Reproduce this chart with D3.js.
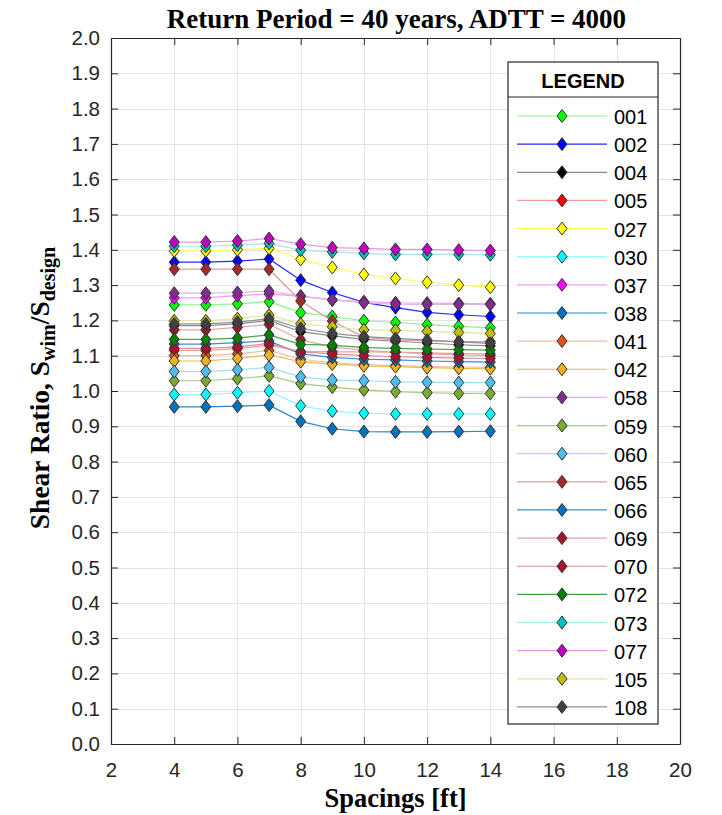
<!DOCTYPE html>
<html>
<head>
<meta charset="utf-8">
<script src="https://cdn.jsdelivr.net/npm/d3@7/dist/d3.min.js"></script>
<style>
  html, body { margin: 0; padding: 0; background: #fff; }
  svg { display: block; }
</style>
</head>
<body>
<svg id="chart" width="722" height="815"></svg>
<script>
// Girder spacings (ft) at which every bridge was evaluated
const spacings = [4, 5, 6, 7, 8, 9, 10, 11, 12, 13, 14];

// Bridge identifiers, in legend order
const bridgeIds = ["001", "002", "004", "005", "027", "030", "037", "038", "041", "042",
                   "058", "059", "060", "065", "066", "069", "070", "072", "073", "077", "105", "108"];

// Shear ratio S_wim / S_design per bridge
const s001 = [1.244, 1.244, 1.247, 1.253, 1.222, 1.211, 1.199, 1.194, 1.188, 1.183, 1.179];
const s002 = [1.365, 1.365, 1.368, 1.374, 1.314, 1.279, 1.251, 1.236, 1.223, 1.216, 1.211];
const s004 = [1.185, 1.185, 1.190, 1.200, 1.168, 1.156, 1.146, 1.141, 1.136, 1.131, 1.128];
const s005 = [1.115, 1.115, 1.120, 1.130, 1.112, 1.111, 1.111, 1.110, 1.108, 1.106, 1.105];
const s027 = [1.397, 1.397, 1.400, 1.404, 1.373, 1.350, 1.330, 1.319, 1.308, 1.300, 1.294];
const s030 = [0.990, 0.990, 0.995, 1.000, 0.958, 0.943, 0.937, 0.935, 0.935, 0.935, 0.935];
const s037 = [1.264, 1.264, 1.270, 1.275, 1.268, 1.258, 1.253, 1.250, 1.249, 1.248, 1.247];
const s038 = [0.955, 0.955, 0.957, 0.960, 0.914, 0.893, 0.885, 0.884, 0.884, 0.885, 0.886];
const s041 = [1.100, 1.100, 1.105, 1.115, 1.090, 1.080, 1.075, 1.072, 1.070, 1.068, 1.067];
const s042 = [1.085, 1.085, 1.092, 1.102, 1.083, 1.076, 1.071, 1.069, 1.066, 1.064, 1.063];
const s058 = [1.277, 1.277, 1.279, 1.283, 1.269, 1.258, 1.250, 1.246, 1.245, 1.245, 1.245];
const s059 = [1.029, 1.029, 1.035, 1.043, 1.021, 1.011, 1.003, 0.998, 0.995, 0.993, 0.993];
const s060 = [1.055, 1.055, 1.060, 1.067, 1.040, 1.031, 1.029, 1.026, 1.025, 1.024, 1.024];
const s065 = [1.345, 1.345, 1.345, 1.345, 1.255, 1.198, 1.152, 1.145, 1.142, 1.140, 1.140];
const s066 = [1.133, 1.133, 1.137, 1.142, 1.105, 1.095, 1.090, 1.088, 1.085, 1.083, 1.082];
const s069 = [1.173, 1.173, 1.180, 1.189, 1.145, 1.125, 1.115, 1.110, 1.105, 1.102, 1.100];
const s070 = [1.121, 1.121, 1.125, 1.135, 1.111, 1.105, 1.100, 1.097, 1.095, 1.093, 1.092];
const s072 = [1.146, 1.146, 1.150, 1.159, 1.132, 1.130, 1.123, 1.121, 1.119, 1.117, 1.116];
const s073 = [1.410, 1.410, 1.413, 1.418, 1.399, 1.394, 1.390, 1.387, 1.387, 1.387, 1.386];
const s077 = [1.422, 1.422, 1.425, 1.432, 1.416, 1.406, 1.404, 1.401, 1.401, 1.399, 1.398];
const s105 = [1.199, 1.199, 1.205, 1.215, 1.190, 1.182, 1.173, 1.172, 1.169, 1.166, 1.163];
const s108 = [1.190, 1.190, 1.195, 1.205, 1.177, 1.163, 1.154, 1.149, 1.144, 1.139, 1.135];

const seriesValues = [s001, s002, s004, s005, s027, s030, s037, s038, s041, s042,
                      s058, s059, s060, s065, s066, s069, s070, s072, s073, s077, s105, s108];

// Marker fill and (lighter) line colour per bridge
const markerColors = ["#00ff00", "#0000ff", "#000000", "#ff0000", "#ffff00", "#00ffff", "#ff00ff", "#0072bd",
                      "#d95319", "#edb120", "#7e2f8e", "#77ac30", "#4dbeee", "#a52a2a", "#0072bd", "#a2142f",
                      "#a2142f", "#008000", "#00bfbf", "#bf00bf", "#bfbf00", "#404040"];
const lineColors = ["#8cf78c", "#2a2aff", "#8a8a8a", "#f59a9a", "#ffff55", "#8cfafa", "#f79af7", "#2a86c8",
                    "#f0bca8", "#edb94a", "#dcb6dc", "#a6cc80", "#a6dcf2", "#d8a0a0", "#3b90cc", "#e4a6b0",
                    "#d9909c", "#4ca04c", "#a6e6e6", "#e39ae3", "#e6e6a0", "#8f8f8f"];

const xTicks = d3.range(2, 20.001, 2);
const yTicks = d3.range(0, 21).map(i => i / 10);

const W = 722, H = 815;
const plot = { left: 111, right: 680, top: 38, bottom: 744 };

const svg = d3.select("#chart");
svg.append("rect").attr("width", W).attr("height", H).attr("fill", "#fff");

const x = d3.scaleLinear().domain([2, 20]).range([plot.left, plot.right]);
const y = d3.scaleLinear().domain([0, 2]).range([plot.bottom, plot.top]);

const sansFont = "'Liberation Sans', Arial, Helvetica, sans-serif";
const serifFont = "'Liberation Serif', 'Times New Roman', serif";

// Grid
const grid = svg.append("g").attr("stroke", "#e3e3e3").attr("stroke-width", 1);
grid.selectAll("line.gx").data(xTicks.slice(1, -1)).join("line")
  .attr("x1", d => Math.round(x(d)) + 0.5).attr("x2", d => Math.round(x(d)) + 0.5)
  .attr("y1", plot.top).attr("y2", plot.bottom);
grid.selectAll("line.gy").data(yTicks.slice(1, -1)).join("line")
  .attr("y1", d => Math.round(y(d)) + 0.5).attr("y2", d => Math.round(y(d)) + 0.5)
  .attr("x1", plot.left).attr("x2", plot.right);

// Axes (ticks point inward, MATLAB style)
const tickLen = 7;
const fmt = d3.format(".1f");
const axB = svg.append("g").attr("transform", `translate(0,${plot.bottom})`)
  .call(d3.axisBottom(x).tickValues(xTicks).tickFormat(d3.format("d")).tickSizeInner(-tickLen).tickSizeOuter(0).tickPadding(18));
const axT = svg.append("g").attr("transform", `translate(0,${plot.top})`)
  .call(d3.axisTop(x).tickValues(xTicks).tickFormat("").tickSizeInner(-tickLen).tickSizeOuter(0));
const axL = svg.append("g").attr("transform", `translate(${plot.left},0)`)
  .call(d3.axisLeft(y).tickValues(yTicks).tickFormat(fmt).tickSizeInner(-tickLen).tickSizeOuter(0).tickPadding(11));
const axR = svg.append("g").attr("transform", `translate(${plot.right},0)`)
  .call(d3.axisRight(y).tickValues(yTicks).tickFormat("").tickSizeInner(-tickLen).tickSizeOuter(0));

[axB, axT, axL, axR].forEach(a => {
  a.select(".domain").attr("stroke", "#262626").attr("stroke-width", 1.2);
  a.selectAll(".tick line").attr("stroke", "#262626").attr("stroke-width", 1);
  a.selectAll(".tick text").attr("fill", "#262626").style("font-family", sansFont).style("font-size", "20.5px");
});

// Bridge curves: line then diamond markers, drawn in legend order
const diamond = "M0,-6.5L5,0L0,6.5L-5,0Z";
const line = d3.line().x(d => x(d[0])).y(d => y(d[1]));
const dataG = svg.append("g");
bridgeIds.forEach((id, i) => {
  const pts = spacings.map((s, j) => [s, seriesValues[i][j]]);
  const g = dataG.append("g").attr("class", "bridge-" + id);
  g.append("path").datum(pts).attr("d", line)
    .attr("fill", "none").attr("stroke", lineColors[i]).attr("stroke-width", 1.2);
  g.selectAll("path.mk").data(pts).join("path").attr("class", "mk")
    .attr("d", diamond)
    .attr("transform", d => `translate(${x(d[0])},${y(d[1])})`)
    .attr("fill", markerColors[i]).attr("stroke", "#333").attr("stroke-width", 1);
});

// Legend
const lg = { x0: 508, x1: 658, y0: 62, y1: 724, head: 97, first: 116, step: 28.14 };
const legend = svg.append("g");
legend.append("rect").attr("x", lg.x0).attr("y", lg.y0).attr("width", lg.x1 - lg.x0).attr("height", lg.y1 - lg.y0)
  .attr("fill", "#fff").attr("stroke", "#262626").attr("stroke-width", 1.2);
legend.append("line").attr("x1", lg.x0).attr("x2", lg.x1).attr("y1", lg.head).attr("y2", lg.head)
  .attr("stroke", "#262626").attr("stroke-width", 1.2);
legend.append("text").attr("x", (lg.x0 + lg.x1) / 2).attr("y", 88).attr("text-anchor", "middle")
  .style("font-family", sansFont).style("font-size", "20px").style("font-weight", "bold").attr("fill", "#000")
  .text("LEGEND");
const items = legend.selectAll("g.item").data(bridgeIds).join("g").attr("class", "item")
  .attr("transform", (d, i) => `translate(0,${lg.first + i * lg.step})`);
items.append("line").attr("x1", 517).attr("x2", 607).attr("y1", 0).attr("y2", 0)
  .attr("stroke", (d, i) => lineColors[i]).attr("stroke-width", 1.2);
items.append("path").attr("d", diamond).attr("transform", "translate(562,0)")
  .attr("fill", (d, i) => markerColors[i]).attr("stroke", "#333").attr("stroke-width", 1);
items.append("text").attr("x", 614).attr("y", 8)
  .style("font-family", sansFont).style("font-size", "20px").attr("fill", "#000")
  .text(d => d);

// Title and axis labels
svg.append("text").attr("x", (plot.left + plot.right) / 2 + 1).attr("y", 28).attr("text-anchor", "middle")
  .style("font-family", serifFont).style("font-size", "27px").style("font-weight", "bold").attr("fill", "#000")
  .text("Return Period = 40 years, ADTT = 4000");

svg.append("text").attr("x", (plot.left + plot.right) / 2).attr("y", 807).attr("text-anchor", "middle")
  .style("font-family", serifFont).style("font-size", "26.5px").style("font-weight", "bold").attr("fill", "#000")
  .text("Spacings [ft]");

const yl = svg.append("text").attr("transform", `translate(49,${(plot.top + plot.bottom) / 2 - 3}) rotate(-90)`)
  .attr("text-anchor", "middle")
  .style("font-family", serifFont).style("font-size", "27.5px").style("font-weight", "bold").attr("fill", "#000");
yl.append("tspan").text("Shear Ratio, S");
yl.append("tspan").attr("dy", 6).style("font-size", "20px").text("wim");
yl.append("tspan").attr("dy", -6).text("/S");
yl.append("tspan").attr("dy", 6).style("font-size", "20px").text("design");
</script>
</body>
</html>
